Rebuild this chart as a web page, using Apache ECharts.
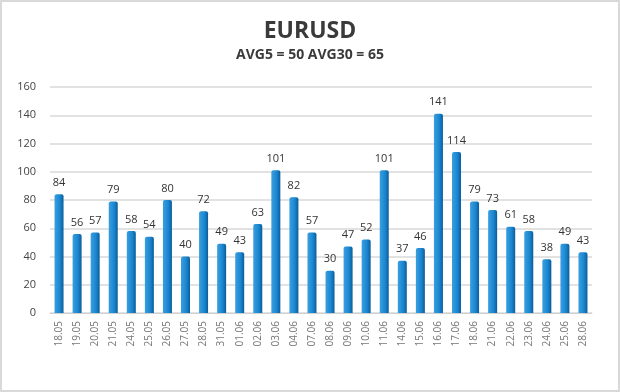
<!DOCTYPE html>
<html><head><meta charset="utf-8">
<script src="https://cdn.jsdelivr.net/npm/echarts@6/dist/echarts.min.js"></script>
<style>html,body{margin:0;padding:0;background:#fff}#c{width:620px;height:392px;box-sizing:border-box;border:2px solid #d9d9d9}</style>
</head><body><div id="c"></div>
<script>
const categories = ["18.05","19.05","20.05","21.05","24.05","25.05","26.05","27.05","28.05","31.05","01.06","02.06","03.06","04.06","07.06","08.06","09.06","10.06","11.06","14.06","15.06","16.06","17.06","18.06","21.06","22.06","23.06","24.06","25.06","28.06"];
const values = [84,56,57,79,58,54,80,40,72,49,43,63,101,82,57,30,47,52,101,37,46,141,114,79,73,61,58,38,49,43];
const titleText = "EURUSD";
const subtitleText = "AVG5 = 50 AVG30 = 65";

const chart = echarts.init(document.getElementById('c'));
chart.setOption({
  animation: false,
  title: {
    text: titleText, subtext: subtitleText, left: 'center', top: 13,
    textStyle: {fontFamily: 'Open Sans', fontSize: 23, fontWeight: 'bold', color: '#3a3a3a'},
    subtextStyle: {fontFamily: 'Open Sans', fontSize: 14, fontWeight: 'bold', color: '#3a3a3a'},
    itemGap: 5
  },
  grid: {left: 48, right: 26, top: 85, bottom: 77},
  xAxis: {
    type: 'category', data: categories,
    axisLine: {lineStyle: {color: '#d0d0d0'}}, axisTick: {show: false},
    axisLabel: {rotate: 90, fontSize: 10, color: '#777', fontFamily: 'Open Sans', margin: 8}
  },
  yAxis: {
    type: 'value', min: 0, max: 160, interval: 20,
    axisLine: {show: false}, axisTick: {show: false},
    splitLine: {lineStyle: {color: '#d9d9d9', width: 1.5}},
    axisLabel: {fontSize: 11, color: '#444', fontFamily: 'Open Sans', margin: 14}
  },
  series: [{
    type: 'bar', data: values, barWidth: 9,
    itemStyle: {
      color: new echarts.graphic.LinearGradient(0,0,1,0,[
        {offset:0, color:'#3a9fe0'},{offset:0.6, color:'#1a86d0'},{offset:1, color:'#0b5c99'}]),
      borderRadius: [2,2,0,0]
    },
    label: {show: true, position: 'top', distance: 6, fontSize: 11, color: '#333', fontFamily: 'Open Sans'}
  }]
});
</script></body></html>
